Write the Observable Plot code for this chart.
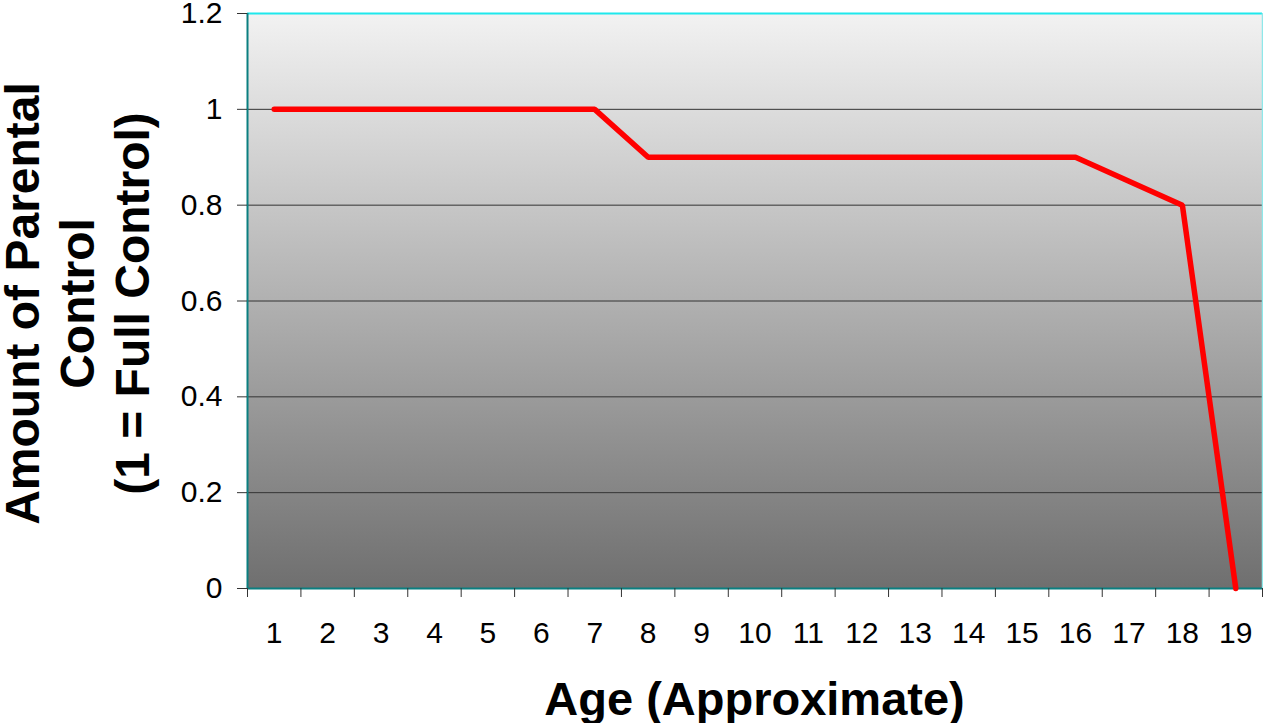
<!DOCTYPE html>
<html>
<head>
<meta charset="utf-8">
<script src="https://cdn.jsdelivr.net/npm/d3@7"></script>
<script src="https://cdn.jsdelivr.net/npm/@observablehq/plot@0.6"></script>
<style>
  html, body { margin: 0; padding: 0; background: #fff; }
  #chart svg { display: block; }
</style>
</head>
<body>
<div id="chart"></div>
<script>
// ---- data ----
const ages = [1, 2, 3, 4, 5, 6, 7, 8, 9, 10, 11, 12, 13, 14, 15, 16, 17, 18, 19];
const control = [1, 1, 1, 1, 1, 1, 1, 0.9, 0.9, 0.9, 0.9, 0.9, 0.9, 0.9, 0.9, 0.9, 0.85, 0.8, 0];
const yTicks = [0, 0.2, 0.4, 0.6, 0.8, 1, 1.2];
const gridValues = [0.2, 0.4, 0.6, 0.8, 1];
const xTitle = "Age (Approximate)";
const yTitleLines = ["Amount of Parental", "Control", "(1 = Full Control)"];

// category boundaries (tick marks between categories)
const bounds = [ages[0] - 0.5, ...ages.map(a => a + 0.5)];

const data = ages.map((a, i) => ({age: a, value: control[i]}));

const W = 1263, H = 723;
const mL = 247, mR = 1, mT = 13, mB = 135;

const svg = Plot.plot({
  width: W,
  height: H,
  marginLeft: mL,
  marginRight: mR,
  marginTop: mT,
  marginBottom: mB,
  style: {fontFamily: "'Liberation Sans', Arial, sans-serif", background: "#fff", color: "#000", overflow: "visible"},
  x: {domain: [bounds[0], bounds[bounds.length - 1]], label: null},
  y: {domain: [yTicks[0], yTicks[yTicks.length - 1]], label: null},
  marks: [
    Plot.frame({fill: "url(#bgGrad)", stroke: null}),
    Plot.ruleY(gridValues, {stroke: "#333333", strokeWidth: 1}),
    Plot.ruleY([yTicks[yTicks.length - 1]], {stroke: "#1ee8ec", strokeWidth: 2}),
    Plot.ruleX([bounds[bounds.length - 1]], {stroke: "#8fe8ea", strokeWidth: 1.5}),
    Plot.ruleX([bounds[0]], {stroke: "#0a7f80", strokeWidth: 2}),
    Plot.ruleY([0], {stroke: "#0a7f80", strokeWidth: 2}),
    Plot.axisY({ticks: yTicks, tickSize: 10, tickPadding: 15, fontSize: 30, tickFormat: d => String(d), stroke: "#333", label: null}),
    Plot.axisX({ticks: bounds, tickSize: 9, tickFormat: () => "", stroke: "#333", label: null}),
    Plot.axisX({ticks: ages, tickSize: 0, tickPadding: 33, fontSize: 30, tickFormat: d => String(d), label: null}),
    Plot.line(data, {x: "age", y: "value", stroke: "#ff0000", strokeWidth: 5.5, strokeLinejoin: "miter", strokeLinecap: "round"})
  ]
});

const s = d3.select(svg);
const defs = s.insert("defs", ":first-child");
const g = defs.append("linearGradient").attr("id", "bgGrad")
  .attr("x1", 0).attr("y1", 0).attr("x2", 0).attr("y2", 1);
g.append("stop").attr("offset", "0%").attr("stop-color", "#f2f2f2");
g.append("stop").attr("offset", "100%").attr("stop-color", "#6f6f6f");

const plotCx = (mL + (W - mR)) / 2;
const plotCy = (mT + (H - mB)) / 2;

s.append("text")
  .attr("x", plotCx).attr("y", 715)
  .attr("text-anchor", "middle")
  .attr("font-size", 47).attr("font-weight", "bold")
  .attr("fill", "#000")
  .text(xTitle);

const yt = s.append("g").attr("transform", `translate(0,${plotCy + 3}) rotate(-90)`);
const baselines = [39, 94, 149];
yTitleLines.forEach((t, i) => {
  yt.append("text")
    .attr("x", 0).attr("y", baselines[i])
    .attr("text-anchor", "middle")
    .attr("font-size", 48).attr("font-weight", "bold")
    .attr("fill", "#000")
    .text(t);
});

document.getElementById("chart").appendChild(svg);
</script>
</body>
</html>
